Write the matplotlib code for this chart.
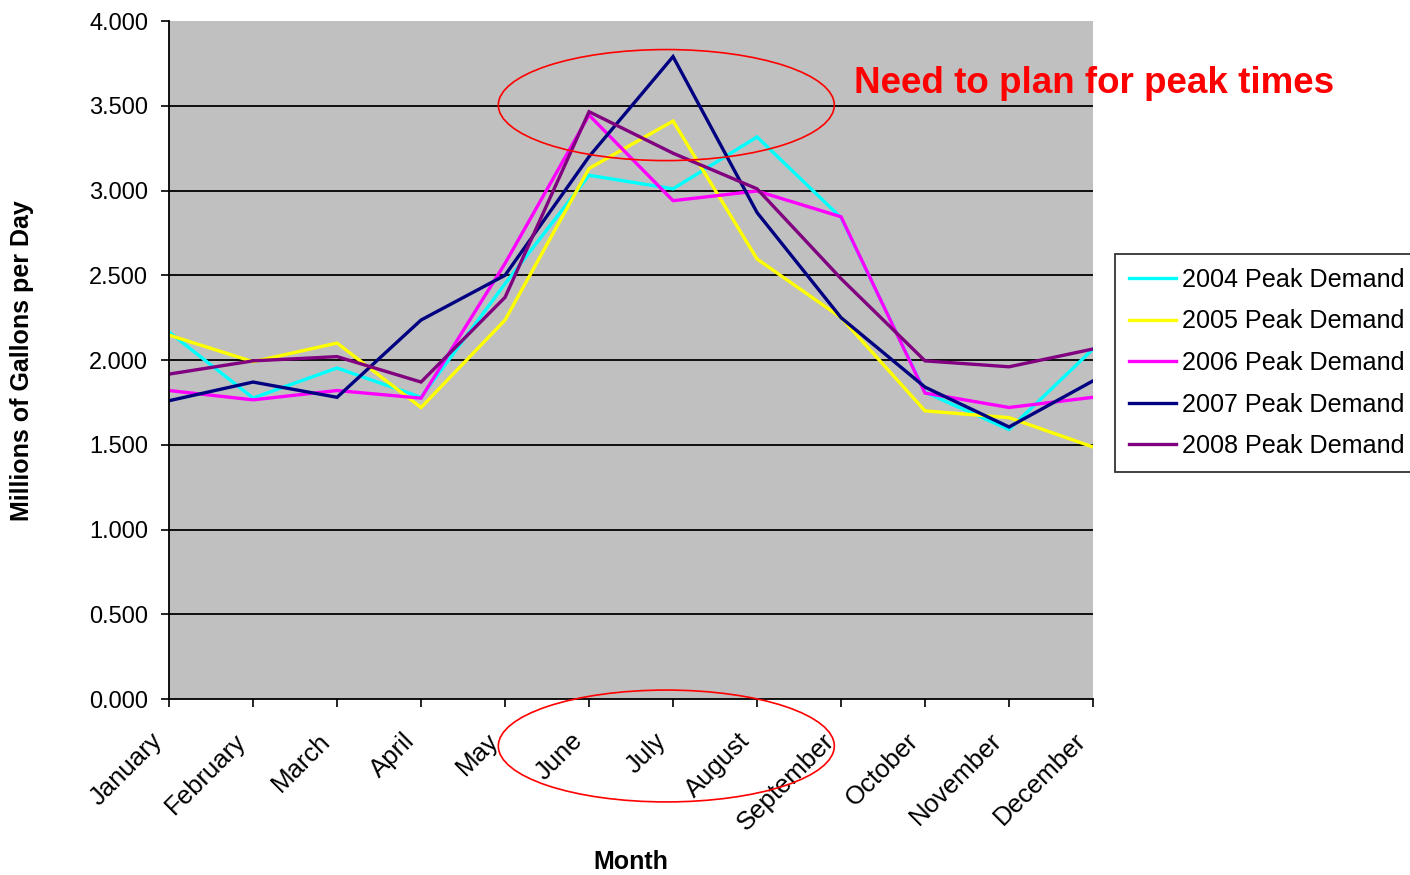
import matplotlib.pyplot as plt
from matplotlib.patches import Ellipse
from matplotlib.ticker import FormatStrFormatter
from matplotlib.transforms import ScaledTranslation

plt.rcParams['font.family'] = ['Liberation Sans', 'DejaVu Sans']

# --- data ---
months = ['January', 'February', 'March', 'April', 'May', 'June', 'July',
          'August', 'September', 'October', 'November', 'December']

demand_2004 = [2.165, 1.776, 1.953, 1.780, 2.450, 3.090, 3.010, 3.316, 2.840, 1.810, 1.590, 2.065]
demand_2005 = [2.147, 1.990, 2.100, 1.720, 2.236, 3.130, 3.410, 2.596, 2.250, 1.700, 1.660, 1.487]
demand_2006 = [1.820, 1.765, 1.820, 1.775, 2.570, 3.445, 2.940, 2.997, 2.845, 1.805, 1.720, 1.780]
demand_2007 = [1.760, 1.870, 1.780, 2.236, 2.500, 3.200, 3.790, 2.870, 2.250, 1.840, 1.605, 1.877]
demand_2008 = [1.917, 1.995, 2.020, 1.870, 2.370, 3.465, 3.220, 3.010, 2.480, 1.995, 1.960, 2.065]

series = [
    ('2004 Peak Demand', demand_2004, '#00FFFF'),
    ('2005 Peak Demand', demand_2005, '#FFFF00'),
    ('2006 Peak Demand', demand_2006, '#FF00FF'),
    ('2007 Peak Demand', demand_2007, '#000080'),
    ('2008 Peak Demand', demand_2008, '#800080'),
]

fig = plt.figure(figsize=(14.1, 8.75), dpi=100)
ax = fig.add_axes([0.1199, 0.2011, 0.6553, 0.7749])
ax.set_facecolor('#C0C0C0')

x = list(range(len(months)))
for label, vals, color in series:
    ax.plot(x, vals, color=color, linewidth=2.4, label=label, solid_joinstyle='miter')

# horizontal grid
for y in [0.5, 1.0, 1.5, 2.0, 2.5, 3.0, 3.5]:
    ax.axhline(y, color='black', linewidth=1.3, zorder=0.5)

ax.set_xlim(0, 11)
ax.set_ylim(0, 4.0)
ax.set_yticks([0, 0.5, 1.0, 1.5, 2.0, 2.5, 3.0, 3.5, 4.0])
ax.yaxis.set_major_formatter(FormatStrFormatter('%.3f'))
ax.set_xticks(x)
ax.set_xticklabels(months, rotation=45, ha='right', rotation_mode='anchor')
ax.tick_params(axis='both', labelsize=17, length=6, width=1.2, direction='out', color='black')
ax.tick_params(axis='x', labelsize=18.5, pad=6)
ax.tick_params(axis='y', pad=9)

# push month labels down and left of their ticks
shift = ScaledTranslation(-19 / 100, -13 / 100, fig.dpi_scale_trans)
for lbl in ax.get_xticklabels():
    lbl.set_transform(lbl.get_transform() + shift)

for side in ['top', 'right']:
    ax.spines[side].set_visible(False)
for side in ['left', 'bottom']:
    ax.spines[side].set_linewidth(1.3)

ax.set_ylabel('Millions of Gallons per Day', fontsize=18, fontweight='bold', va='center')
ax.yaxis.set_label_coords(-0.159, 0.499)
ax.set_xlabel('Month', fontsize=18, fontweight='bold', va='center')
ax.xaxis.set_label_coords(0.5, -0.240)

# callouts around the summer peak
ax.add_patch(Ellipse((5.92, 3.504), 4.0, 0.655, fill=False, edgecolor='red',
                     linewidth=1.2, clip_on=False, zorder=5))
ax.add_patch(Ellipse((5.92, -0.277), 4.0, 0.66, fill=False, edgecolor='red',
                     linewidth=1.2, clip_on=False, zorder=5))
fig.text(0.6057, 0.905, 'Need to plan for peak times', color='red',
         fontsize=26.5, fontweight='bold', ha='left', va='center')

leg = fig.legend(loc='upper left', bbox_to_anchor=(0.791, 0.7097), fontsize=18.1,
                 frameon=True, fancybox=False, edgecolor='black', handlelength=1.85,
                 handletextpad=0.25, labelspacing=0.7, borderpad=0.55,
                 borderaxespad=0)
leg.get_frame().set_linewidth(1.3)

fig.savefig('out.png', dpi=100)
